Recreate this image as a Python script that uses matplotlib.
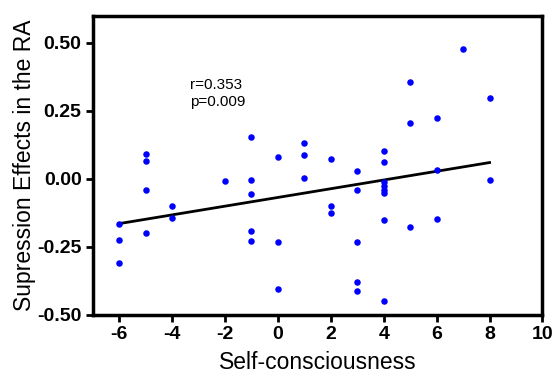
import numpy as np
import matplotlib.pyplot as plt

plt.rcParams['font.family'] = ['Liberation Sans', 'DejaVu Sans']
plt.rcParams['axes.unicode_minus'] = False

# self-consciousness score and supression effect per subject
x = [-6, -6, -6,
     -5, -5, -5, -5,
     -4, -4,
     -2,
     -1, -1, -1, -1, -1,
     0, 0, 0,
     1, 1, 1,
     2, 2, 2,
     3, 3, 3, 3, 3,
     4, 4, 4, 4, 4, 4, 4, 4,
     5, 5, 5,
     6, 6, 6,
     7,
     8, 8]
y = [-0.166, -0.224, -0.310,
     0.091, 0.065, -0.042, -0.200,
     -0.101, -0.142,
     -0.009,
     0.155, -0.005, -0.057, -0.191, -0.229,
     0.081, -0.233, -0.404,
     0.133, 0.089, 0.002,
     0.073, -0.099, -0.124,
     0.028, -0.039, -0.230, -0.378, -0.413,
     0.101, 0.062, -0.012, -0.027, -0.039, -0.052, -0.151, -0.447,
     0.355, 0.206, -0.177,
     0.224, 0.033, -0.148,
     0.478,
     0.296, -0.004]
x = np.array(x, dtype=float)
y = np.array(y)

slope, icpt = np.polyfit(x, y, 1)
xfit = np.array([x.min(), x.max()])

fig = plt.figure(figsize=(5.56, 3.85), dpi=100)
ax = fig.add_axes([0.1667, 0.182, 0.809, 0.777])
ax.scatter(x, y, s=22, color='#0000ff', zorder=3, linewidths=0)
ax.plot(xfit, slope * xfit + icpt, color='black', lw=2, zorder=2)

ax.text(-3.32, 0.37, 'r=0.353\np=0.009', fontsize=11, va='top', ha='left',
        linespacing=1.2)

ax.set_xlim(-7, 10)
ax.set_ylim(-0.5, 0.6)
ax.set_xticks(range(-6, 11, 2))
ax.set_yticks([-0.5, -0.25, 0, 0.25, 0.5])
ax.set_yticklabels(['-0.50', '-0.25', '0.00', '0.25', '0.50'])
ax.set_xlabel('Self-consciousness', fontsize=16.5, labelpad=6)
ax.set_ylabel('Supression Effects in the RA', fontsize=16.5, labelpad=1)

for s in ax.spines.values():
    s.set_linewidth(2.5)
ax.tick_params(width=2, length=5, labelsize=14, direction='out', pad=3)
for lab in ax.get_xticklabels() + ax.get_yticklabels():
    lab.set_fontweight('bold')

fig.savefig('out.png', dpi=100)
